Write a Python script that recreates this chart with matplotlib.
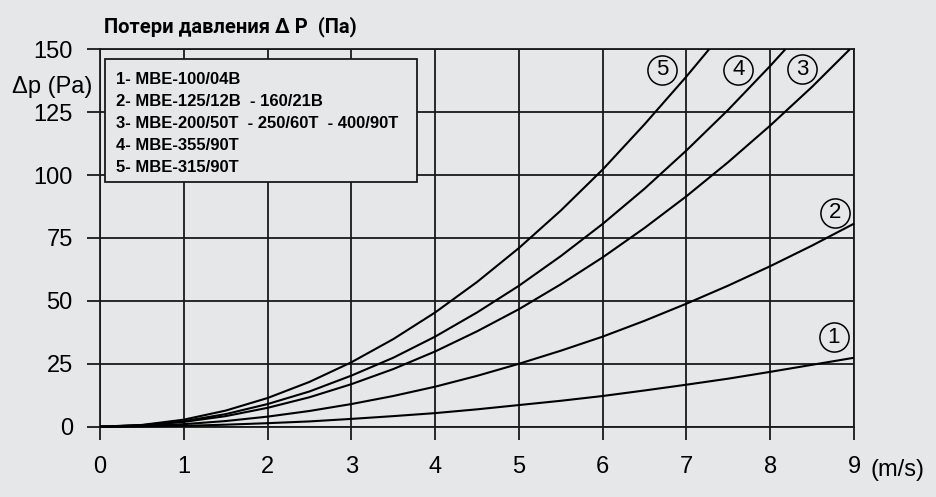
import matplotlib
matplotlib.use("Agg")
import matplotlib.pyplot as plt
from matplotlib.patches import Rectangle

BG = "#e6e7e9"
INK = "#1a1a1a"

# Air velocity (m/s) and pressure loss (Pa)
x5 = [0, 0.5, 1, 1.5, 2, 2.5, 3, 3.5, 4, 4.5, 5, 5.5, 6, 6.5, 7, 7.27]
y5 = [0, 0.7, 2.8, 6.4, 11.4, 17.8, 25.6, 34.8, 45.4, 57.5, 71, 85.9, 102.2, 120.2, 139.2, 150]
x4 = [0, 0.5, 1, 1.5, 2, 2.5, 3, 3.5, 4, 4.5, 5, 5.5, 6, 6.5, 7, 7.5, 8, 8.18]
y4 = [0, 0.6, 2.2, 5.0, 9.0, 14.0, 20.3, 27.4, 35.8, 45.4, 56, 67.8, 80.6, 94.6, 109.8, 126, 143.4, 150]
x3 = [0, 0.5, 1, 1.5, 2, 2.5, 3, 3.5, 4, 4.5, 5, 5.5, 6, 6.5, 7, 7.5, 8, 8.5, 8.95]
y3 = [0, 0.5, 1.9, 4.2, 7.5, 11.7, 16.9, 22.9, 29.9, 37.9, 46.7, 56.6, 67.3, 79.0, 91.6, 105.2, 119.7, 135.1, 150]
x2 = [0, 0.5, 1, 1.5, 2, 2.5, 3, 3.5, 4, 4.5, 5, 5.5, 6, 6.5, 7, 7.5, 8, 8.5, 9]
y2 = [0, 0.25, 1.0, 2.25, 4.0, 6.25, 9.0, 12.2, 15.9, 20.2, 25, 30.2, 35.8, 42.1, 48.9, 56.1, 63.8, 72.0, 80.7]
x1 = [0, 0.5, 1, 1.5, 2, 2.5, 3, 3.5, 4, 4.5, 5, 5.5, 6, 6.5, 7, 7.5, 8, 8.5, 9]
y1 = [0, 0.1, 0.34, 0.8, 1.4, 2.1, 3.1, 4.2, 5.4, 6.9, 8.6, 10.3, 12.2, 14.4, 16.7, 19.1, 21.8, 24.6, 27.4]

x_ticks = [0, 1, 2, 3, 4, 5, 6, 7, 8, 9]
y_ticks = [0, 25, 50, 75, 100, 125, 150]

legend_lines = [
    "1- MBE-100/04B",
    "2- MBE-125/12B  - 160/21B",
    "3- MBE-200/50T  - 250/60T  - 400/90T",
    "4- MBE-355/90T",
    "5- MBE-315/90T",
]
curve_labels = ["1", "2", "3", "4", "5"]
label_x = [8.76, 8.77, 8.38, 7.62, 6.71]
label_y = [35.6, 85.1, 142.1, 141.8, 141.8]

W, H = 936, 497
fig = plt.figure(figsize=(W / 100, H / 100), dpi=100, facecolor=BG)
L, R, B, T = 100, 854, 426.7, 49.3
ax = fig.add_axes([L / W, 1 - B / H, (R - L) / W, (B - T) / H])
ax.set_facecolor(BG)

for xs, ys in [(x1, y1), (x2, y2), (x3, y3), (x4, y4), (x5, y5)]:
    ax.plot(xs, ys, color="black", lw=1.5, solid_capstyle="butt", solid_joinstyle="round",
            zorder=3, clip_on=False)

ax.set_xlim(0, 9)
ax.set_ylim(0, 150)
ax.set_xticks(x_ticks)
ax.set_yticks(y_ticks)
ax.grid(True, color=INK, lw=1.3)
ax.set_axisbelow(True)
for s in ax.spines.values():
    s.set_color(INK)
    s.set_linewidth(1.3)
ax.tick_params(axis="both", direction="out", length=9.1, width=1.3, color=INK,
               labelsize=17, labelcolor="black")
ax.tick_params(axis="x", pad=12.3)
ax.tick_params(axis="y", pad=10.5)
for lab in ax.get_xticklabels() + ax.get_yticklabels():
    lab.set_family("Liberation Sans")


def fx(px):
    return px / W


def fy(py):
    return 1 - py / H


# legend box
box = Rectangle((fx(105), fy(181.7)), fx(416.7) - fx(105), fy(59) - fy(181.7),
                transform=fig.transFigure, facecolor=BG, edgecolor=INK, lw=1.3, zorder=5)
fig.add_artist(box)
for i, line in enumerate(legend_lines):
    fig.text(fx(116), fy(79 + 22 * i), line, ha="left", va="center", fontsize=12,
             fontweight="bold", family="Liberation Sans", zorder=6)

# circled curve numbers
for lab, lx, ly in zip(curve_labels, label_x, label_y):
    ax.plot([lx], [ly], marker="o", ms=21, mfc="none", mec="black", mew=1.1,
            zorder=4, clip_on=False)
    ax.text(lx, ly, lab, ha="center", va="center", fontsize=16,
            family="Liberation Sans", zorder=4)

fig.text(fx(104), fy(32.7), "Потери давления \u0394 P  (Па)", ha="left", va="baseline",
         fontsize=14.5, fontweight="bold", family="Roboto")
fig.text(fx(12), fy(86.7), "\u0394p (Pa)", ha="left", va="center", fontsize=17,
         family="Liberation Sans")
fig.text(fx(871), fy(470), "(m/s)", ha="left", va="center", fontsize=17,
         family="Liberation Sans")

fig.savefig("out.png", dpi=100, facecolor=BG)
